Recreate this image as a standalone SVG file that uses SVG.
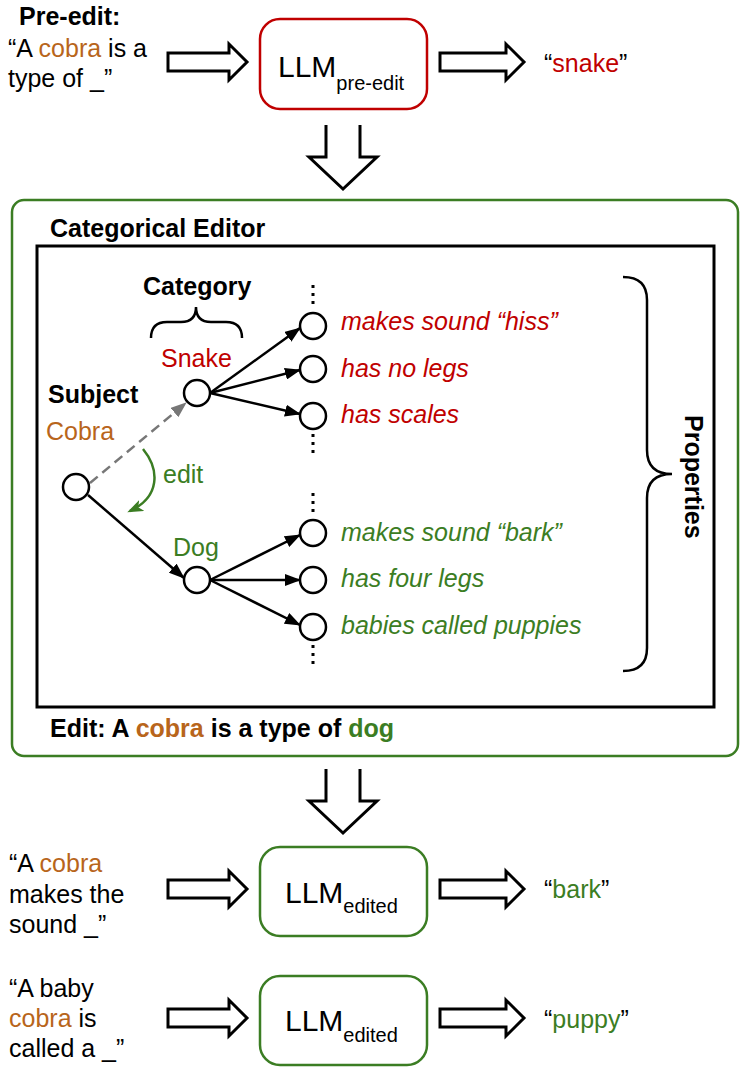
<svg xmlns="http://www.w3.org/2000/svg" width="747" height="1072" viewBox="0 0 747 1072">
<style>
text{font-family:"Liberation Sans",Arial,sans-serif;font-size:25px;fill:#000}
.b{font-weight:bold}
.i{font-style:italic}
.or{fill:#b8651b}
.rd{fill:#c00000}
.gr{fill:#3b7d23}
.llm{font-size:30px}
.sub{font-size:20px}
.hollow{fill:#fff;stroke:#000;stroke-width:3;stroke-linejoin:miter}
.down{fill:none;stroke:#000;stroke-width:3}
.node{fill:#fff;stroke:#000;stroke-width:2.5}
.edge{stroke:#000;stroke-width:2.5;fill:none}
.dots{stroke:#000;stroke-width:3;stroke-dasharray:3 5}
.brace{fill:none;stroke:#000;stroke-width:2.5}
</style>
<defs>
<marker id="ah" viewBox="0 0 16 12" refX="15" refY="6" markerWidth="16" markerHeight="12" markerUnits="userSpaceOnUse" orient="auto"><path d="M0,0 L16,6 L0,12 Z" fill="#000"/></marker>
<marker id="ahg" viewBox="0 0 16 12" refX="15" refY="6" markerWidth="16" markerHeight="12" markerUnits="userSpaceOnUse" orient="auto"><path d="M0,0 L16,6 L0,12 Z" fill="#777"/></marker>
<marker id="ahgr" viewBox="0 0 16 12" refX="13" refY="6" markerWidth="16" markerHeight="12" markerUnits="userSpaceOnUse" orient="auto"><path d="M0,0 L16,6 L0,12 L4,6 Z" fill="#3b7d23"/></marker>
</defs>

<g id="pre-edit-input">
<text class="b" x="19" y="25">Pre-edit:</text>
<text x="8" y="57">“A <tspan class="or">cobra</tspan> is a</text>
<text x="8" y="87">type of _”</text>
</g>
<g id="llm-pre-edit">
<rect x="260" y="19" width="167" height="90" rx="20" fill="#fff" stroke="#c00000" stroke-width="2.5"/>
<text class="llm" x="278" y="77">LLM<tspan class="sub" dy="13">pre-edit</tspan></text>
</g>
<g id="pre-edit-output">
<text x="544" y="72">“<tspan class="rd">snake</tspan>”</text>
</g>

<g id="categorical-editor">
<rect x="12" y="200" width="726" height="556" rx="12" fill="#fff" stroke="#3b7d23" stroke-width="2.5"/>
<text class="b" x="50" y="237">Categorical Editor</text>
<rect x="37" y="246" width="677" height="461" fill="none" stroke="#000" stroke-width="3"/>
<text class="b" x="50" y="737">Edit: A <tspan class="or">cobra</tspan> is a type of <tspan class="gr">dog</tspan></text>
</g>

<g id="category-label">
<text class="b" x="143" y="295">Category</text>
<path class="brace" d="M151,338 Q151,322 167,322 L181,322 Q196,322 196,307 Q196,322 211,322 L226,322 Q242,322 242,338"/>
</g>
<g id="properties-label">
<path class="brace" d="M623,277 Q647,277 647,300 L647,450 Q647,474 672,474 Q647,474 647,498 L647,648 Q647,671 623,671"/>
<text class="b" transform="translate(685,415) rotate(90)">Properties</text>
</g>

<g id="connectors">
<path class="edge" d="M90,483 L186,403" stroke="#777" style="stroke:#777;stroke-dasharray:10 6" marker-end="url(#ahg)"/>
<path class="edge" d="M88,495 L184,578" marker-end="url(#ah)"/>
<path d="M143,449 C160,470 160,497 130,511" fill="none" stroke="#3b7d23" stroke-width="2.5" marker-end="url(#ahgr)"/>
<path class="edge" d="M210,393 L300,328" marker-end="url(#ah)"/>
<path class="edge" d="M210,393 L300,370" marker-end="url(#ah)"/>
<path class="edge" d="M210,393 L300,414" marker-end="url(#ah)"/>
<path class="edge" d="M210,580 L300,535" marker-end="url(#ah)"/>
<path class="edge" d="M210,580 L300,580" marker-end="url(#ah)"/>
<path class="edge" d="M210,580 L300,625" marker-end="url(#ah)"/>
<line class="dots" x1="313" y1="285" x2="313" y2="304"/>
<line class="dots" x1="313" y1="434" x2="313" y2="453"/>
<line class="dots" x1="313" y1="493" x2="313" y2="512"/>
<line class="dots" x1="313" y1="645" x2="313" y2="664"/>
<path class="hollow" d="M168,53 L229,53 L229,44 L247,62 L229,80 L229,71 L168,71 Z"/>
<path class="hollow" d="M440,53 L506,53 L506,44 L524,62 L506,80 L506,71 L440,71 Z"/>
<path class="down" d="M326,125 L326,157 L309,157 L343,189 L377,157 L360,157 L360,125"/>
<path class="down" d="M326,769 L326,801 L309,801 L343,833 L377,801 L360,801 L360,769"/>
<path class="hollow" d="M168,880 L229,880 L229,871 L247,889 L229,907 L229,898 L168,898 Z"/>
<path class="hollow" d="M440,880 L506,880 L506,871 L524,889 L506,907 L506,898 L440,898 Z"/>
<path class="hollow" d="M168,1009 L229,1009 L229,1000 L247,1018 L229,1036 L229,1027 L168,1027 Z"/>
<path class="hollow" d="M440,1009 L506,1009 L506,1000 L524,1018 L506,1036 L506,1027 L440,1027 Z"/>
</g>

<g id="subject-cobra">
<text class="b" x="48" y="403">Subject</text>
<text class="or" x="46" y="440">Cobra</text>
<circle class="node" cx="76" cy="487" r="13"/>
</g>
<g id="edit-label"><text class="gr" x="163" y="483">edit</text></g>
<g id="category-snake">
<text class="rd" x="161" y="367">Snake</text>
<circle class="node" cx="197" cy="393" r="13"/>
</g>
<g id="category-dog">
<text class="gr" x="173" y="556">Dog</text>
<circle class="node" cx="197" cy="580" r="13"/>
</g>
<g id="prop-hiss"><circle class="node" cx="313" cy="326" r="13"/><text class="i rd" x="341" y="330">makes sound “hiss”</text></g>
<g id="prop-nolegs"><circle class="node" cx="313" cy="369" r="13"/><text class="i rd" x="341" y="377">has no legs</text></g>
<g id="prop-scales"><circle class="node" cx="313" cy="416" r="13"/><text class="i rd" x="341" y="423">has scales</text></g>
<g id="prop-bark"><circle class="node" cx="313" cy="533" r="13"/><text class="i gr" x="341" y="541">makes sound “bark”</text></g>
<g id="prop-fourlegs"><circle class="node" cx="313" cy="580" r="13"/><text class="i gr" x="341" y="587">has four legs</text></g>
<g id="prop-puppies"><circle class="node" cx="313" cy="627" r="13"/><text class="i gr" x="341" y="634">babies called puppies</text></g>

<g id="query-sound">
<text x="9" y="872">“A <tspan class="or">cobra</tspan></text>
<text x="9" y="903">makes the</text>
<text x="9" y="933">sound _”</text>
</g>
<g id="llm-edited-1">
<rect x="260" y="847" width="167" height="89" rx="20" fill="#fff" stroke="#3b7d23" stroke-width="2.5"/>
<text class="llm" x="285" y="903">LLM<tspan class="sub" dy="10">edited</tspan></text>
</g>
<g id="output-bark"><text x="544" y="898">“<tspan class="gr">bark</tspan>”</text></g>

<g id="query-baby">
<text x="9" y="997">“A baby</text>
<text x="9" y="1027"><tspan class="or">cobra</tspan> is</text>
<text x="9" y="1057">called a _”</text>
</g>
<g id="llm-edited-2">
<rect x="260" y="976" width="167" height="89" rx="20" fill="#fff" stroke="#3b7d23" stroke-width="2.5"/>
<text class="llm" x="285" y="1031">LLM<tspan class="sub" dy="11">edited</tspan></text>
</g>
<g id="output-puppy"><text x="544" y="1028">“<tspan class="gr">puppy</tspan>”</text></g>
</svg>
